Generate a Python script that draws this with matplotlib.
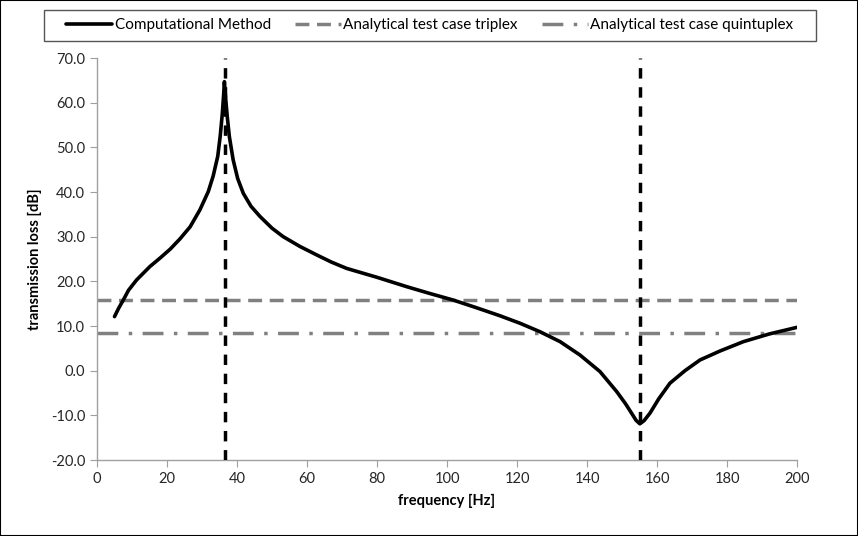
import matplotlib
matplotlib.use("Agg")
import matplotlib.pyplot as plt
from matplotlib.patches import Rectangle

plt.rcParams['font.family'] = ['Lato', 'DejaVu Sans']

# Data
freq = [5.0, 6.2, 7.5, 9.0, 11.3, 15.1, 18.0, 20.9, 23.7, 26.6, 29.4, 31.8, 33.2,
        34.5, 35.2, 35.8, 36.2, 36.4, 36.7, 37.2, 37.8, 38.9, 40.2, 41.8, 44.0, 46.6,
        50.0, 53.2, 58.0, 62.8, 67.0, 71.3, 80.0, 88.5, 95.0, 101.8, 108.0, 115.1,
        120.9, 126.6, 132.3, 138.0, 143.7, 148.5, 151.0, 152.8, 154.0, 155.1,
        156.3, 158.0, 160.5, 163.7, 168.0, 172.3, 178.0, 184.7, 192.0, 200.0]
tl = [12.1, 14.0, 15.8, 18.0, 20.3, 23.3, 25.2, 27.2, 29.5, 32.2, 36.0, 40.1, 43.6,
      48.0, 52.5, 57.5, 62.0, 64.7, 61.5, 57.0, 52.5, 47.2, 43.0, 39.7, 36.8, 34.5,
      31.9, 30.0, 27.8, 25.9, 24.3, 22.9, 20.9, 18.8, 17.3, 15.8, 14.2, 12.3,
      10.6, 8.7, 6.5, 3.5, -0.2, -4.7, -7.4, -9.6, -11.1, -11.9,
      -11.2, -9.5, -6.3, -2.8, 0.0, 2.4, 4.4, 6.5, 8.2, 9.7]
triplex_x = [0, 200]
triplex_y = [15.8, 15.8]
quint_x = [0, 200]
quint_y = [8.4, 8.4]
resonance_x = [36.5, 155.0]

xticks = [0, 20, 40, 60, 80, 100, 120, 140, 160, 180, 200]
yticks = [-20, -10, 0, 10, 20, 30, 40, 50, 60, 70]

fig = plt.figure(figsize=(8.58, 5.36), dpi=100)
ax = fig.add_axes([97/858, 1-460/536, 700/858, 402/536])

l1, = ax.plot(freq, tl, color='black', lw=2.6, label='Computational Method', zorder=3,
              solid_joinstyle='round', solid_capstyle='round')
l2, = ax.plot(triplex_x, triplex_y, color='#808080', lw=2.5, ls=(0, (4, 2.2)),
              label='Analytical test case triplex', zorder=2)
l3, = ax.plot(quint_x, quint_y, color='#808080', lw=2.5, ls=(0, (6, 3, 1, 3)),
              label='Analytical test case quintuplex', zorder=2)
for xv in resonance_x:
    ax.plot([xv, xv], [-20, 70], color='black', lw=2.5, ls=(0, (3, 2.5)), zorder=4)

ax.set_xlim(0, 200)
ax.set_ylim(-20, 70)
ax.set_xticks(xticks)
ax.set_yticks(yticks)
ax.set_yticklabels([f"{v:.1f}" for v in yticks])
ax.tick_params(axis='both', direction='out', length=5, color='#A0A0A0',
               labelsize=10.5, labelcolor='#262626')
for s in ['top', 'right']:
    ax.spines[s].set_visible(False)
for s in ['left', 'bottom']:
    ax.spines[s].set_color('#A0A0A0')
    ax.spines[s].set_linewidth(1)

ax.set_xlabel('frequency [Hz]', fontsize=10.5, fontweight='bold', labelpad=6)
ax.set_ylabel('transmission loss [dB]', fontsize=10.5, fontweight='bold', labelpad=6)

# legend entries centred, with a separate box like the reference
leg = fig.legend(handles=[l1, l2, l3], loc='center', ncol=3,
                 bbox_to_anchor=((44 + 816) / 2 / 858, 1 - 25.5/536),
                 frameon=False, fontsize=11, handlelength=3.0,
                 handletextpad=0.15, columnspacing=1.6, borderpad=0.0,
                 borderaxespad=0)
fig.patches.append(Rectangle((44/858, 1 - 41/536), 772/858, 31/536,
                             transform=fig.transFigure, fill=False,
                             edgecolor='#555555', lw=1))

fig.patches.append(Rectangle((0, 0), 1, 1, transform=fig.transFigure, fill=False,
                             edgecolor='black', lw=1.5))

fig.savefig('out.png', dpi=100)
